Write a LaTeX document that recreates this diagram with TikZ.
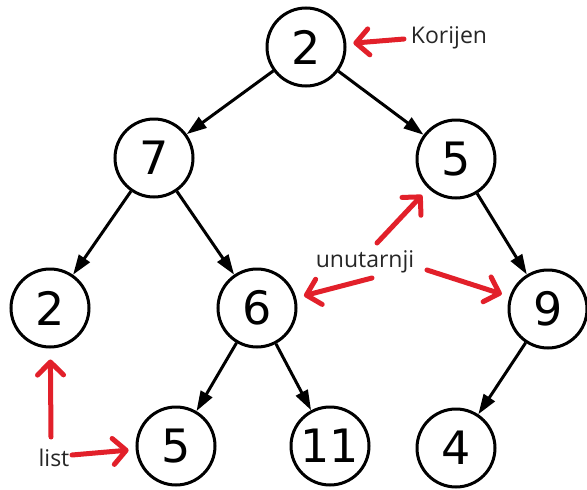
\documentclass[tikz,border=0pt]{standalone}
\usepackage{fontspec}
\setmainfont{DejaVu Sans}
\newfontfamily\labelfont{Open Sans}
\usetikzlibrary{arrows.meta}
\definecolor{markred}{RGB}{226,32,42}
\begin{document}
\begin{tikzpicture}[x=1pt,y=-1pt]
\tikzstyle{every node}+=[inner sep=0pt]
\tikzstyle{vertex}=[draw=black, circle, line width=3pt, minimum size=78pt, font=\fontsize{46}{46}\selectfont]
\tikzstyle{edge}=[black, line width=3pt, -{Triangle[length=20pt,width=13pt]}]
\tikzstyle{pointer}=[draw=markred, line width=5pt, line cap=round, -{Straight Barb[length=13pt,width=26pt,line cap=round,line join=round]}]
\tikzstyle{tag}=[text=black!85, font=\labelfont\fontsize{23}{23}\selectfont]
\useasboundingbox (0,0) rectangle (587,490);
\node[vertex] (root) at (306,47) {2};
\node[vertex] (n7) at (154,158) {7};
\node[vertex] (n5) at (456,159) {5};
\node[vertex] (n2) at (50,308) {2};
\node[vertex] (n6) at (257,308) {6};
\node[vertex] (n9) at (548,309) {9};
\node[vertex] (n5b) at (176,446) {5};
\node[vertex] (n11) at (330,446) {11};
\node[vertex] (n4) at (456,448) {4};
\draw[edge] (root) -- (n7);
\draw[edge] (root) -- (n5);
\draw[edge] (n7) -- (n2);
\draw[edge] (n7) -- (n6);
\draw[edge] (n5) -- (n9);
\draw[edge] (n6) -- (n5b);
\draw[edge] (n6) -- (n11);
\draw[edge] (n9) -- (n4);
\node[tag] (korijen) at (449,38) {Korijen};
\node[tag] (unut) at (365,262) {unutarnji};
\node[tag] (list) at (54,458) {list};
\coordinate (kfrom) at (404,39);
\coordinate (ufrom5) at (377,243);
\coordinate (ufrom6) at (372,278);
\coordinate (ufrom9) at (427,270);
\coordinate (lfrom2) at (51,437);
\coordinate (lfrom5) at (72,455);
\draw[pointer, shorten >=7pt] (kfrom) -- (root);
\draw[pointer, shorten >=9pt] (ufrom5) -- (n5);
\draw[pointer, shorten >=8pt] (ufrom6) -- (n6);
\draw[pointer, shorten >=8pt] (ufrom9) -- (n9);
\draw[pointer, shorten >=11pt] (lfrom2) -- (n2);
\draw[pointer, shorten >=7pt] (lfrom5) -- (n5b);
\end{tikzpicture}
\end{document}
